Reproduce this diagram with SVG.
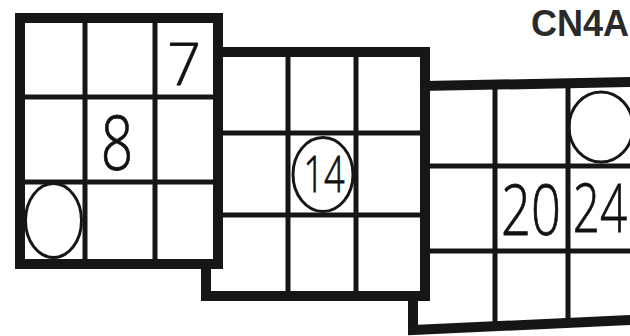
<svg xmlns="http://www.w3.org/2000/svg" width="630" height="336" viewBox="0 0 630 336">
<style>
.thick{stroke:#161616;stroke-width:10;fill:none;stroke-linecap:square}
.thin{stroke:#161616;stroke-width:5;fill:none;stroke-linecap:butt}
.ring{stroke:#161616;stroke-width:3;fill:none}
.hand{font-family:"Open Sans","DejaVu Sans",sans-serif;font-weight:300;fill:#111;stroke:#111;stroke-width:0.8;text-anchor:middle}
.title{font-family:"Liberation Sans",Arial,sans-serif;font-weight:bold;font-size:36px;fill:#2a2a2a;text-anchor:end}
</style>
<rect width="630" height="336" fill="#ffffff"/>
<g id="grid1">
  <line class="thin" x1="85" y1="18" x2="85" y2="264"/>
  <line class="thin" x1="155" y1="18" x2="155" y2="264"/>
  <line class="thin" x1="20" y1="97" x2="218" y2="97"/>
  <line class="thin" x1="20" y1="182" x2="218" y2="182"/>
  <path class="thick" d="M20,18 H218 V264 H20 Z"/>
  <ellipse class="ring" cx="53.5" cy="220.5" rx="28" ry="37"/>
  <text class="hand" x="184" y="85" font-size="59">7</text>
  <text class="hand" transform="translate(117,170) scale(0.75,1)" font-size="76">8</text>
</g>
<g id="grid2">
  <line class="thin" x1="288" y1="52" x2="288" y2="296"/>
  <line class="thin" x1="356" y1="52" x2="356" y2="296"/>
  <line class="thin" x1="218" y1="133" x2="425" y2="133"/>
  <line class="thin" x1="218" y1="215" x2="425" y2="215"/>
  <path class="thick" d="M218,52 H425 V296 H206 V264"/>
  <ellipse class="ring" cx="323" cy="174.5" rx="30" ry="37"/>
  <text class="hand" transform="translate(324,192) scale(0.72,1)" font-size="50">14</text>
</g>
<g id="grid3">
  <line class="thin" x1="495" y1="85" x2="495" y2="328"/>
  <line class="thin" x1="568" y1="84" x2="568" y2="325"/>
  <line class="thin" x1="425" y1="166" x2="630" y2="166"/>
  <line class="thin" x1="425" y1="251" x2="630" y2="251"/>
  <path class="thick" d="M425,86 L632,82"/>
  <path class="thick" d="M413,300 V330 L632,320"/>
  <ellipse class="ring" cx="601" cy="127" rx="32" ry="35"/>
  <text class="hand" transform="translate(531,235) scale(0.75,1)" font-size="70">20</text>
  <text class="hand" transform="translate(600,232) scale(0.72,1)" font-size="66">24</text>
</g>
<text class="title" x="629" y="36">CN4A</text>
</svg>
